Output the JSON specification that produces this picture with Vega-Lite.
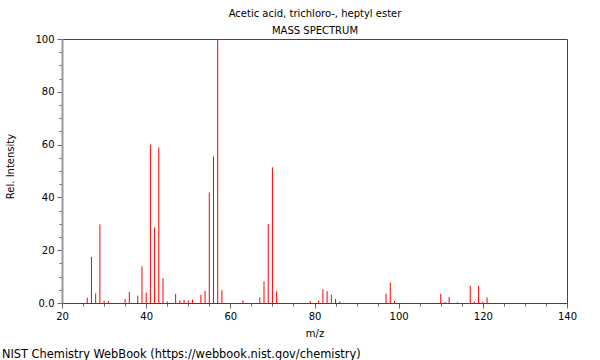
{
  "$schema": "https://vega.github.io/schema/vega-lite/v6.json",
  "autosize": "none",
  "width": 505,
  "height": 264,
  "padding": {"left": 62, "top": 39, "right": 33, "bottom": 57},
  "config": {
    "font": "DejaVu Sans",
    "view": {"stroke": "#444", "strokeWidth": 1},
    "axis": {"labelFont": "DejaVu Sans", "titleFont": "DejaVu Sans", "labelFontSize": 10, "titleFontSize": 10, "titleFontWeight": "normal", "labelColor": "#000", "titleColor": "#000", "grid": false}
  },
  "title": {
    "text": "NIST Chemistry WebBook (https://webbook.nist.gov/chemistry)",
    "orient": "bottom",
    "anchor": "start",
    "frame": "bounds",
    "font": "DejaVu Sans",
    "fontSize": 11.4,
    "fontWeight": "normal",
    "color": "#000",
    "offset": 11,
    "dx": -4
  },
  "data": {
    "values": [
      {"mz": 26, "intensity": 2}, {"mz": 27, "intensity": 17.5}, {"mz": 28, "intensity": 3.6}, {"mz": 29, "intensity": 29.8},
      {"mz": 30, "intensity": 0.8}, {"mz": 31, "intensity": 0.8}, {"mz": 35, "intensity": 1.5}, {"mz": 36, "intensity": 4.2},
      {"mz": 38, "intensity": 2.8}, {"mz": 39, "intensity": 13.9}, {"mz": 40, "intensity": 4}, {"mz": 41, "intensity": 60},
      {"mz": 42, "intensity": 28.6}, {"mz": 43, "intensity": 58.9}, {"mz": 44, "intensity": 9.4}, {"mz": 45, "intensity": 0.6},
      {"mz": 47, "intensity": 3.5}, {"mz": 48, "intensity": 1}, {"mz": 49, "intensity": 1.2}, {"mz": 50, "intensity": 1},
      {"mz": 51, "intensity": 1.3}, {"mz": 53, "intensity": 3.1}, {"mz": 54, "intensity": 4.6}, {"mz": 55, "intensity": 41.9},
      {"mz": 56, "intensity": 55.5}, {"mz": 57, "intensity": 100}, {"mz": 58, "intensity": 4.8}, {"mz": 63, "intensity": 1},
      {"mz": 67, "intensity": 2.1}, {"mz": 68, "intensity": 8.2}, {"mz": 69, "intensity": 29.9}, {"mz": 70, "intensity": 51.4},
      {"mz": 71, "intensity": 4.4}, {"mz": 79, "intensity": 0.7}, {"mz": 81, "intensity": 1}, {"mz": 82, "intensity": 5.2},
      {"mz": 83, "intensity": 4.5}, {"mz": 84, "intensity": 3.1}, {"mz": 85, "intensity": 1.5}, {"mz": 86, "intensity": 0.6},
      {"mz": 97, "intensity": 3.5}, {"mz": 98, "intensity": 7.8}, {"mz": 99, "intensity": 0.8}, {"mz": 110, "intensity": 3.5},
      {"mz": 111, "intensity": 0.4}, {"mz": 112, "intensity": 2.3}, {"mz": 114, "intensity": 0.3}, {"mz": 117, "intensity": 6.5},
      {"mz": 118, "intensity": 0.5}, {"mz": 119, "intensity": 6.5}, {"mz": 120, "intensity": 0.5}, {"mz": 121, "intensity": 2.1}
    ]
  },
  "layer": [
    {
      "mark": {"type": "rule", "color": "#ff0000", "strokeWidth": 1},
      "encoding": {
        "x": {
          "field": "mz", "type": "quantitative",
          "scale": {"domain": [20, 140], "nice": false, "zero": false},
          "axis": {
            "orient": "bottom", "title": "m/z",
            "values": [20,25,30,35,40,45,50,55,60,65,70,75,80,85,90,95,100,105,110,115,120,125,130,135,140],
            "labelExpr": "datum.value % 20 === 0 ? datum.label : ''",
            "tickSize": {"condition": {"test": "datum.value % 20 === 0", "value": 5}, "value": 3},
            "tickColor": "#666", "domainColor": "#444",
            "labelOverlap": false, "labelFlush": false, "labelPadding": 3, "titlePadding": 7
          }
        },
        "y": {
          "field": "intensity", "type": "quantitative",
          "scale": {"domain": [0, 100], "nice": false},
          "axis": {
            "title": "Rel. Intensity",
            "titleY": 127,
            "values": [0,5,10,15,20,25,30,35,40,45,50,55,60,65,70,75,80,85,90,95,100],
            "labelExpr": "datum.value === 0 ? '0.0' : (datum.value % 20 === 0 ? datum.label : '')",
            "tickSize": {"condition": {"test": "datum.value % 20 === 0", "value": 5}, "value": 3},
            "tickColor": "#666", "domainColor": "#999", "domainWidth": 2,
            "labelOverlap": false, "labelFlush": false, "labelPadding": 3, "titlePadding": 19
          }
        },
        "y2": {"datum": 0}
      }
    },
    {
      "mark": {"type": "rule", "opacity": 0},
      "encoding": {
        "x": {
          "field": "mz", "type": "quantitative",
          "axis": {
            "orient": "top",
            "title": ["Acetic acid, trichloro-, heptyl ester", "MASS SPECTRUM"],
            "titleLineHeight": 17,
            "labels": false, "ticks": false, "domain": false,
            "titlePadding": 4
          }
        }
      }
    }
  ],
  "resolve": {"axis": {"x": "independent"}}
}
